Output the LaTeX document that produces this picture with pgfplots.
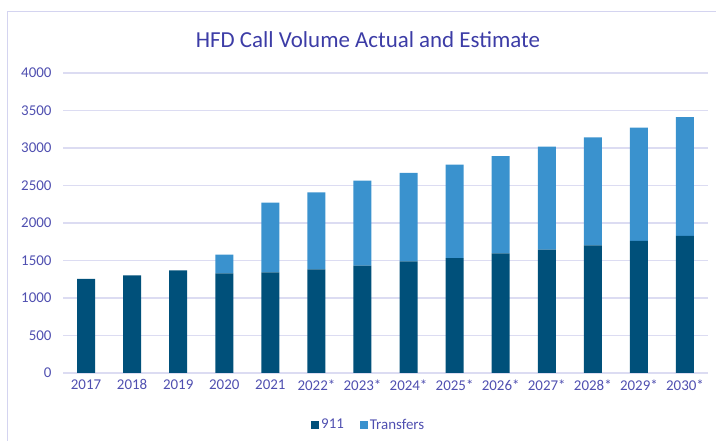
\documentclass[border=0pt]{standalone}
\usepackage{pgfplots}
\pgfplotsset{compat=1.18}
\usepackage{fontspec}
\setmainfont{Carlito}
\definecolor{nineone}{HTML}{00507A}
\definecolor{transf}{HTML}{3A92CE}
\definecolor{gridc}{HTML}{DCDCF2}
\definecolor{ticktxt}{HTML}{4F4FB0}
\definecolor{titletxt}{HTML}{3C3CA6}
\definecolor{framec}{HTML}{D4D4F0}
\begin{document}
\begin{tikzpicture}[x=1bp,y=1bp]
\useasboundingbox (0,0) rectangle (716,441);
\draw[framec, line width=1bp] (7.5,0) -- (7.5,429) -- (716,429);
\node[titletxt, font=\fontsize{23}{26}\selectfont] at (368,401) {HFD Call Volume Actual and Estimate};
\begin{axis}[
  at={(63bp,68bp)}, anchor=south west,
  scale only axis, width=645bp, height=300bp,
  ybar stacked, bar width=18bp,
  xmin=-0.5, xmax=13.5, ymin=0, ymax=4000,
  ytick={0,500,...,4000},
  yticklabels={{\mbox{0}},{\mbox{500}},{\mbox{1000}},{\mbox{1500}},{\mbox{2000}},{\mbox{2500}},{\mbox{3000}},{\mbox{3500}},{\mbox{4000}}},
  xtick={0,...,13},
  xticklabels={{\mbox{2017}},{\mbox{2018}},{\mbox{2019}},{\mbox{2020}},{\mbox{2021}},{\mbox{2022*}},{\mbox{2023*}},{\mbox{2024*}},{\mbox{2025*}},{\mbox{2026*}},{\mbox{2027*}},{\mbox{2028*}},{\mbox{2029*}},{\mbox{2030*}}},
  axis line style={draw=none},
  xmajorgrids=false,
  ymajorgrids=true, grid style={draw=gridc, line width=1.2bp},
  major tick length=0pt,
  tick label style={text=ticktxt, font=\fontsize{15}{17}\selectfont},
  yticklabel style={xshift=-8bp},
  xticklabel style={yshift=-3bp},
  legend columns=2,
  legend style={at={(0.474,-0.173)}, anchor=center, draw=none, fill=none,
    font=\fontsize{15}{17}\selectfont, text=ticktxt,
    /tikz/every even column/.append style={column sep=14bp}},
  legend image code/.code={\fill[#1] (0bp,-4bp) rectangle (8bp,4bp);},
]
\addplot[fill=nineone, draw=none] coordinates {(0,1255) (1,1303) (2,1369) (3,1329) (4,1342) (5,1382) (6,1431) (7,1489) (8,1533) (9,1596) (10,1644) (11,1702) (12,1760) (13,1827)};
\addplot[fill=transf, draw=none] coordinates {(0,0) (1,0) (2,0) (3,249) (4,929) (5,1027) (6,1133) (7,1178) (8,1245) (9,1297) (10,1374) (11,1440) (12,1511) (13,1586)};
\legend{911,Transfers}
\end{axis}
\end{tikzpicture}
\end{document}
